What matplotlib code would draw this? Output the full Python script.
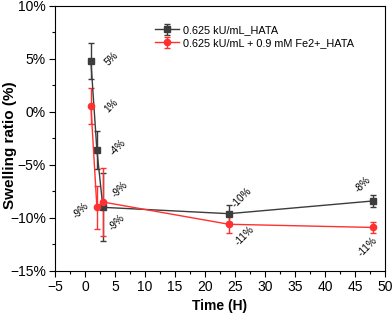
import numpy as np
import matplotlib.pyplot as plt
from matplotlib.ticker import MultipleLocator, FuncFormatter

plt.rcParams['font.family'] = ['Liberation Sans', 'DejaVu Sans']

time_h = [1, 2, 3, 24, 48]
hata = [4.8, -3.6, -9.0, -9.6, -8.4]
hata_err = [1.7, 1.8, 3.2, 0.8, 0.6]
fe_hata = [0.6, -9.0, -8.5, -10.6, -10.9]
fe_hata_err = [1.7, 2.0, 3.2, 0.8, 0.5]

labels_hata = ['5%', '-4%', '-9%', '-10%', '-8%']
labels_fe = ['1%', '-9%', '-9%', '-11%', '-11%']

fig = plt.figure(figsize=(3.92, 3.15), dpi=100)
ax = fig.add_axes([0.14, 0.14, 0.842, 0.841])

black = '#3c3c3c'
red = '#ff3030'
ax.errorbar(time_h, hata, yerr=hata_err, color=black, marker='s', ms=4,
            lw=1, capsize=2.5, elinewidth=1, label='0.625 kU/mL_HATA')
ax.errorbar(time_h, fe_hata, yerr=fe_hata_err, color=red, marker='o', ms=4.5,
            lw=1, capsize=2.5, elinewidth=1, label='0.625 kU/mL + 0.9 mM Fe2+_HATA')

# annotation offsets in points (rough placement from the reference)
off_hata = [(15, 1.5), (15, 2), (10, -11), (9.5, 11.5), (-7, 11.5)]
off_fe = [(15, 0), (-11.5, -2), (12, 9), (11.5, -8), (-4, -14)]
for x, y, t, o in zip(time_h, hata, labels_hata, off_hata):
    ax.annotate(t, (x, y), xytext=o, textcoords='offset points', rotation=45,
                fontsize=7.2, ha='center', va='center')
for x, y, t, o in zip(time_h, fe_hata, labels_fe, off_fe):
    ax.annotate(t, (x, y), xytext=o, textcoords='offset points', rotation=45,
                fontsize=7.2, ha='center', va='center')

ax.set_xlim(-5, 50)
ax.set_ylim(-15, 10)
ax.xaxis.set_major_locator(MultipleLocator(5))
ax.xaxis.set_minor_locator(MultipleLocator(2.5))
ax.yaxis.set_major_locator(MultipleLocator(5))
ax.yaxis.set_minor_locator(MultipleLocator(2.5))
ax.yaxis.set_major_formatter(FuncFormatter(lambda v, p: f'{v:.0f}%'.replace('-', '\u2212')))
ax.xaxis.set_major_formatter(FuncFormatter(lambda v, p: f'{v:.0f}'.replace('-', '\u2212')))
ax.tick_params(which='major', length=4, width=0.8, labelsize=10, direction='out', pad=2.5)
ax.tick_params(which='minor', length=2, width=0.8, direction='out')
for s in ax.spines.values():
    s.set_linewidth(0.8)

ax.set_xlabel('Time (H)', fontsize=10, fontweight='bold', labelpad=4)
ax.set_ylabel('Swelling ratio (%)', fontsize=11, fontweight='bold')
ax.yaxis.set_label_coords(-0.115, 0.475)

ax.legend(loc='upper left', bbox_to_anchor=(0.29, 0.945), frameon=False,
          fontsize=7.8, handlelength=2.2, handletextpad=0.4,
          borderaxespad=0, labelspacing=0.3)

fig.savefig('out.png', dpi=100)
